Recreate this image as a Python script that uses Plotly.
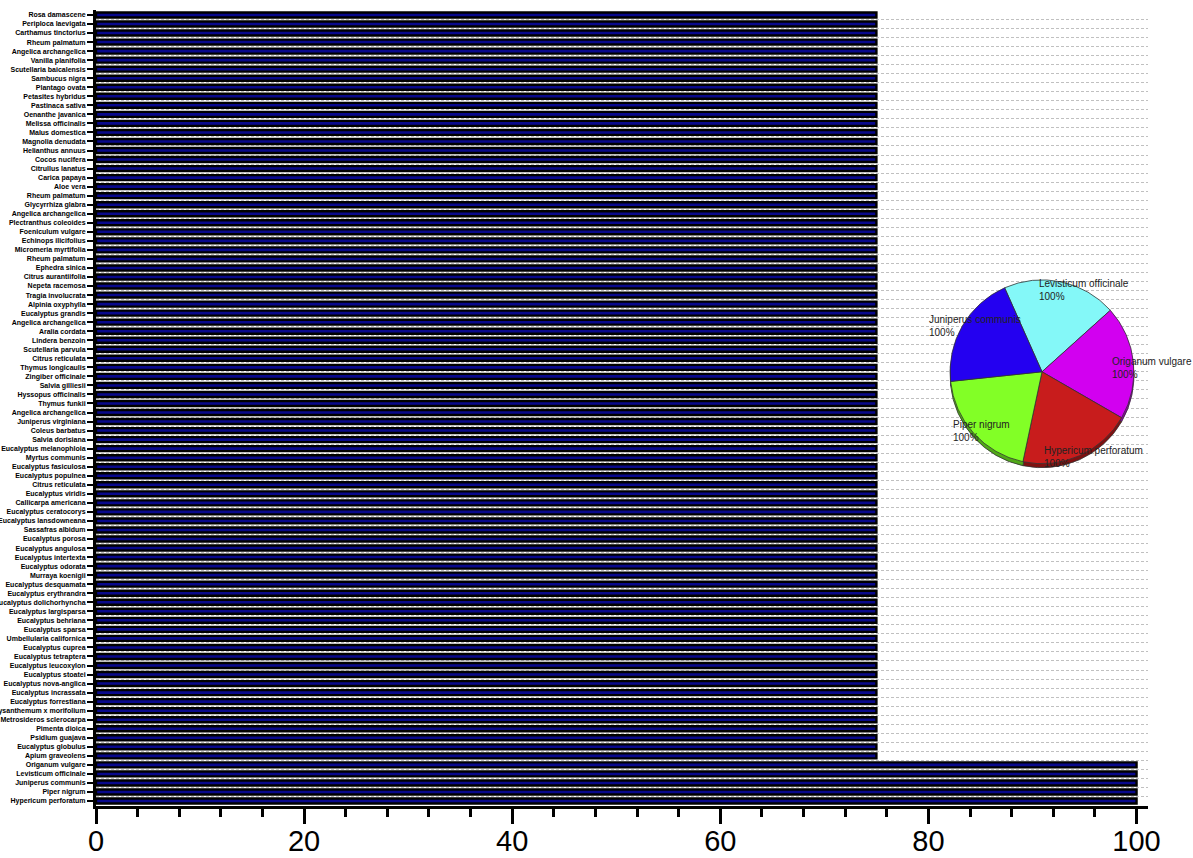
import plotly.graph_objects as go

# ---------------- data ----------------
species = [
    "Rosa damascene", "Periploca laevigata", "Carthamus tinctorius", "Rheum palmatum",
    "Angelica archangelica", "Vanilla planifolia", "Scutellaria baicalensis", "Sambucus nigra",
    "Plantago ovata", "Petasites hybridus", "Pastinaca sativa", "Oenanthe javanica",
    "Melissa officinalis", "Malus domestica", "Magnolia denudata", "Helianthus annuus",
    "Cocos nucifera", "Citrullus lanatus", "Carica papaya", "Aloe vera",
    "Rheum palmatum", "Glycyrrhiza glabra", "Angelica archangelica", "Plectranthus coleoides",
    "Foeniculum vulgare", "Echinops ilicifolius", "Micromeria myrtifolia", "Rheum palmatum",
    "Ephedra sinica", "Citrus aurantiifolia", "Nepeta racemosa", "Tragia involucrata",
    "Alpinia oxyphylla", "Eucalyptus grandis", "Angelica archangelica", "Aralia cordata",
    "Lindera benzoin", "Scutellaria parvula", "Citrus reticulata", "Thymus longicaulis",
    "Zingiber officinale", "Salvia gilliesii", "Hyssopus officinalis", "Thymus funkii",
    "Angelica archangelica", "Juniperus virginiana", "Coleus barbatus", "Salvia dorisiana",
    "Eucalyptus melanophloia", "Myrtus communis", "Eucalyptus fasiculosa", "Eucalyptus populnea",
    "Citrus reticulata", "Eucalyptus viridis", "Callicarpa americana", "Eucalyptus ceratocorys",
    "Eucalyptus lansdowneana", "Sassafras albidum", "Eucalyptus porosa", "Eucalyptus angulosa",
    "Eucalyptus intertexta", "Eucalyptus odorata", "Murraya koenigii", "Eucalyptus desquamata",
    "Eucalyptus erythrandra", "Eucalyptus dolichorhyncha", "Eucalyptus largisparsa", "Eucalyptus behriana",
    "Eucalyptus sparsa", "Umbellularia californica", "Eucalyptus cuprea", "Eucalyptus tetraptera",
    "Eucalyptus leucoxylon", "Eucalyptus stoatei", "Eucalyptus nova-anglica", "Eucalyptus incrassata",
    "Eucalyptus forrestiana", "Chrysanthemum x morifolium", "Metrosideros sclerocarpa", "Pimenta dioica",
    "Psidium guajava", "Eucalyptus globulus", "Apium graveolens", "Origanum vulgare",
    "Levisticum officinale", "Juniperus communis", "Piper nigrum", "Hypericum perforatum",
]

values = [
    75, 75, 75, 75, 75, 75, 75, 75, 75, 75, 75, 75,
    75, 75, 75, 75, 75, 75, 75, 75, 75, 75, 75, 75,
    75, 75, 75, 75, 75, 75, 75, 75, 75, 75, 75, 75,
    75, 75, 75, 75, 75, 75, 75, 75, 75, 75, 75, 75,
    75, 75, 75, 75, 75, 75, 75, 75, 75, 75, 75, 75,
    75, 75, 75, 75, 75, 75, 75, 75, 75, 75, 75, 75,
    75, 75, 75, 75, 75, 75, 75, 75, 75, 75, 75,
    100, 100, 100, 100, 100,
]

x_ticks = [0, 20, 40, 60, 80, 100]

pie_labels = ["Levisticum officinale", "Origanum vulgare", "Hypericum perforatum",
              "Piper nigrum", "Juniperus communis"]
pie_values = [100, 100, 100, 100, 100]
pie_text = ["100%", "100%", "100%", "100%", "100%"]
pie_colors = ["#84f8f8", "#d200f0", "#c81c1c", "#82ff26", "#2400f0"]
pie_rim_colors = ["#4aa8a8", "#8a00a0", "#801010", "#50a818", "#180098"]

# ---------------- figure ----------------
n = len(species)
ypos = list(range(n - 1, -1, -1))  # first category at top

fig = go.Figure()

fig.add_trace(go.Bar(
    x=values, y=ypos, orientation="h", width=0.55,
    marker=dict(color="#08088c", line=dict(color="black", width=2.4)),
    showlegend=False, hoverinfo="x+text", text=species, textposition="none",
))

# pie rim (3D look) and pie
fig.add_trace(go.Pie(
    labels=pie_labels, values=pie_values, sort=False, direction="clockwise",
    rotation=-24, textinfo="none", showlegend=False, hoverinfo="skip",
    marker=dict(colors=pie_rim_colors, line=dict(color="#333333", width=0.8)),
    domain=dict(x=[0.8118, 0.9867], y=[0.4250, 0.6560]),
))
fig.add_trace(go.Pie(
    labels=pie_labels, values=pie_values, sort=False, direction="clockwise",
    rotation=-24, textinfo="none", showlegend=False,
    marker=dict(colors=pie_colors, line=dict(color="#333333", width=0.8)),
    domain=dict(x=[0.8118, 0.9867], y=[0.4300, 0.6610]),
))

# pie labels
label_pos = {
    "Levisticum officinale": (0.8945, 0.6658),
    "Juniperus communis": (0.7899, 0.6206),
    "Origanum vulgare": (0.9640, 0.5678),
    "Piper nigrum": (0.8127, 0.4887),
    "Hypericum perforatum": (0.8992, 0.4560),
}
for lab, txt in zip(pie_labels, pie_text):
    px, py = label_pos[lab]
    fig.add_annotation(
        x=px, y=py, xref="paper", yref="paper", xanchor="left", yanchor="top",
        align="left", showarrow=False, text=f"{lab}<br>{txt}",
        font=dict(family="Liberation Sans, Arial", size=10, color="#222222"),
    )

# white inset background covering grid lines behind pie
fig.add_shape(type="rect", xref="paper", yref="paper", x0=0.755, x1=1.0, y0=0.40, y1=0.698,
              fillcolor="white", line=dict(width=0), layer="between")

fig.update_layout(
    width=1193, height=858,
    template="none",
    paper_bgcolor="white", plot_bgcolor="white",
    margin=dict(l=96, r=45, t=10, b=52),
    font=dict(family="Liberation Sans, Arial", color="black"),
)

fig.update_xaxes(
    range=[0, 101.1], tickvals=x_ticks, showgrid=False, zeroline=False,
    showline=True, linecolor="black", linewidth=3,
    ticks="outside", ticklen=15, tickwidth=2.5, tickcolor="black",
    tickfont=dict(size=29, family="Liberation Sans, Arial", color="black"),
    ticklabelstandoff=-8,
    minor=dict(dtick=4, tick0=0, ticks="outside", ticklen=8, tickwidth=2.5,
               tickcolor="black", showgrid=False),
    automargin=False,
)

fig.update_yaxes(
    range=[-0.55, n - 1 + 0.55], tickvals=ypos, ticktext=species,
    showgrid=False, zeroline=False,
    showline=True, linecolor="black", linewidth=3,
    ticks="outside", ticklen=6, tickwidth=2.2, tickcolor="black",
    tickfont=dict(size=7.0, family="Liberation Sans, Arial", color="black", weight="bold"),
    ticklabelstandoff=0,
    minor=dict(tickvals=[k + 0.5 for k in range(n - 1)], showgrid=True,
               gridcolor="#c0c0c0", gridwidth=1, griddash="3px,2px", ticks=""),
    automargin=False,
)

fig.write_html(
    "out.html",
    config={"displayModeBar": False},
    post_script="document.body.style.margin='0px';document.body.style.overflow='hidden';",
)
